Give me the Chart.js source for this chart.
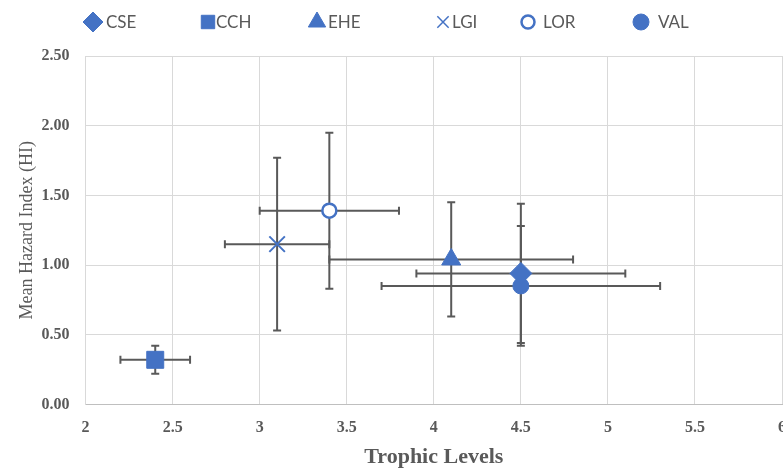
<!DOCTYPE html>
<html>
<head>
<meta charset="utf-8">
<script src="https://cdn.jsdelivr.net/npm/chart.js@4"></script>
<style>
  html, body { margin: 0; padding: 0; background: #fff; overflow: hidden; }
  #wrap { position: absolute; left: 0; top: 0; width: 800px; height: 471px; }
</style>
</head>
<body>
<div id="wrap"><canvas id="scatterChart" width="800" height="471"></canvas></div>
<script>
// Data
const sites = ["CSE", "CCH", "EHE", "LGI", "LOR", "VAL"];
const trophicLevel = [4.5, 2.4, 4.1, 3.1, 3.4, 4.5];
const hazardIndex = [0.94, 0.32, 1.04, 1.15, 1.39, 0.85];
const trophicErr = [0.6, 0.2, 0.7, 0.3, 0.4, 0.8];
const hazardErr = [0.5, 0.1, 0.41, 0.62, 0.56, 0.43];

const xTicks = [2, 2.5, 3, 3.5, 4, 4.5, 5, 5.5, 6];
const yTicks = [0, 0.5, 1, 1.5, 2, 2.5];

const blue = "#4472C4";
const grey = "#595959";

// marker look per site: in the plot, and in the legend row
const markers = {
  CSE: { style: "rectRot", radius: 11, fill: blue, width: 1, legendX: 93, legendR: 10, textX: 106 },
  CCH: { style: "rect", radius: 12, fill: blue, width: 1, legendX: 208, legendR: 9.5, textX: 216 },
  EHE: { style: "triangle", radius: 11, fill: blue, width: 1, legendX: 317, legendR: 10, textX: 328 },
  LGI: { style: "crossRot", radius: 11, fill: blue, width: 2, legendX: 443, legendR: 8, textX: 452 },
  LOR: { style: "circle", radius: 7, fill: "#ffffff", width: 2.5, legendX: 528, legendR: 6.5, textX: 543 },
  VAL: { style: "circle", radius: 8, fill: blue, width: 1, legendX: 641, legendR: 8, textX: 658 },
};

// error bars drawn under the markers, using the chart scales
const errorBars = {
  id: "errorBars",
  beforeDatasetsDraw(chart) {
    const ctx = chart.ctx;
    const xs = chart.scales.x;
    const ys = chart.scales.y;
    const cap = 4;
    ctx.save();
    ctx.strokeStyle = grey;
    ctx.lineWidth = 2;
    sites.forEach((s, i) => {
      const px = xs.getPixelForValue(trophicLevel[i]);
      const py = ys.getPixelForValue(hazardIndex[i]);
      const x0 = xs.getPixelForValue(trophicLevel[i] - trophicErr[i]);
      const x1 = xs.getPixelForValue(trophicLevel[i] + trophicErr[i]);
      const y0 = ys.getPixelForValue(hazardIndex[i] - hazardErr[i]);
      const y1 = ys.getPixelForValue(hazardIndex[i] + hazardErr[i]);
      ctx.beginPath();
      ctx.moveTo(x0, py); ctx.lineTo(x1, py);
      ctx.moveTo(x0, py - cap); ctx.lineTo(x0, py + cap);
      ctx.moveTo(x1, py - cap); ctx.lineTo(x1, py + cap);
      ctx.moveTo(px, y0); ctx.lineTo(px, y1);
      ctx.moveTo(px - cap, y0); ctx.lineTo(px + cap, y0);
      ctx.moveTo(px - cap, y1); ctx.lineTo(px + cap, y1);
      ctx.stroke();
    });
    ctx.restore();
  },
};

// legend row at the top, spaced like the original
const topLegend = {
  id: "topLegend",
  afterDraw(chart) {
    const ctx = chart.ctx;
    const y = 22;
    ctx.save();
    ctx.font = "17px Lato";
    ctx.textBaseline = "middle";
    sites.forEach((s) => {
      const m = markers[s];
      ctx.fillStyle = m.fill;
      ctx.strokeStyle = blue;
      ctx.lineWidth = s === "LOR" ? 2.5 : (s === "LGI" ? 1.5 : 1);
      Chart.helpers.drawPoint(ctx, { pointStyle: m.style, radius: m.legendR, rotation: 0, borderWidth: ctx.lineWidth }, m.legendX, y);
      ctx.fillStyle = grey;
      ctx.fillText(s, m.textX, y + 1);
    });
    ctx.restore();
  },
};

const datasets = sites.map((s, i) => ({
  label: s,
  data: [{ x: trophicLevel[i], y: hazardIndex[i] }],
  pointStyle: markers[s].style,
  pointRadius: markers[s].radius,
  pointHoverRadius: markers[s].radius,
  backgroundColor: markers[s].fill,
  borderColor: blue,
  borderWidth: markers[s].width,
}));

const ctx = document.getElementById("scatterChart").getContext("2d");
new Chart(ctx, {
  type: "scatter",
  data: { datasets: datasets },
  plugins: [errorBars, topLegend],
  options: {
    responsive: false,
    animation: false,
    layout: { autoPadding: false, padding: { top: 56, left: 5, right: 16, bottom: 0 } },
    plugins: {
      tooltip: { enabled: false },
      legend: { display: false },
    },
    scales: {
      x: {
        type: "linear",
        min: 2,
        max: 6,
        afterBuildTicks: (axis) => { axis.ticks = xTicks.map((v) => ({ value: v })); },
        grid: { color: "#d9d9d9", lineWidth: 1, drawTicks: false },
        border: { color: "#bfbfbf" },
        ticks: {
          color: grey,
          padding: 14,
          font: { family: "Liberation Serif", size: 16, weight: "bold" },
          callback: (v) => String(v),
        },
        title: {
          display: true,
          text: "Trophic Levels",
          color: grey,
          font: { family: "Liberation Serif", size: 22, weight: "bold" },
          padding: { top: -7, bottom: 0 },
        },
      },
      y: {
        type: "linear",
        min: 0,
        max: 2.5,
        afterBuildTicks: (axis) => { axis.ticks = yTicks.map((v) => ({ value: v })); },
        grid: { color: "#d9d9d9", lineWidth: 1, drawTicks: false },
        border: { color: "#d9d9d9" },
        ticks: {
          color: grey,
          padding: 16,
          font: { family: "Liberation Serif", size: 16, weight: "bold" },
          callback: (v) => v.toFixed(2),
        },
        title: {
          display: true,
          text: "Mean Hazard Index (HI)",
          color: grey,
          font: { family: "Liberation Serif", size: 18 },
          padding: { top: 11, bottom: -12 },
        },
      },
    },
  },
});
</script>
</body>
</html>
